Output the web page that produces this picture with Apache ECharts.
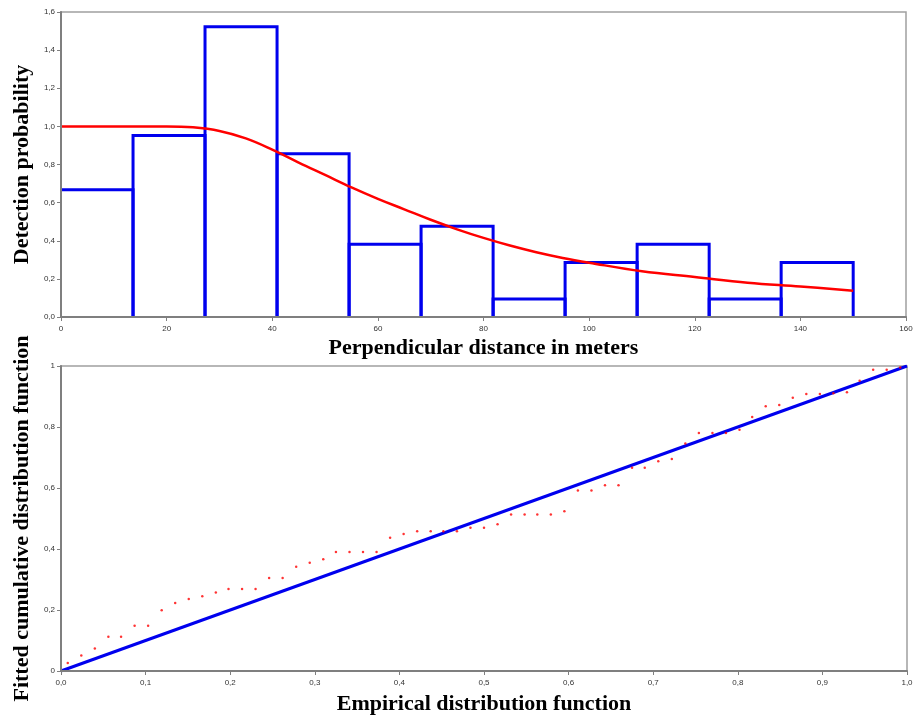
<!DOCTYPE html>
<html>
<head>
<meta charset="utf-8">
<script src="https://cdn.jsdelivr.net/npm/echarts@6/dist/echarts.min.js"></script>
<style>
html,body{margin:0;padding:0;background:#fff;}
#chart{width:915px;height:720px;}
</style>
</head>
<body>
<div id="chart"></div>
<script>
// ---- Top panel: histogram of perpendicular distances + fitted detection function ----
const binEdges = [0, 13.64, 27.27, 40.91, 54.55, 68.18, 81.82, 95.45, 109.09, 122.73, 136.36, 150];
const binHeights = [0.667, 0.952, 1.523, 0.857, 0.381, 0.476, 0.095, 0.286, 0.381, 0.095, 0.286];
const curveX = [0, 5, 10, 15, 20, 25, 30, 35, 40, 45, 50, 55, 60, 65, 70, 75, 80, 85, 90, 95, 100, 110, 120, 130, 140, 150];
const curveY = [1.0, 1.0, 1.0, 1.0, 1.0, 0.995, 0.976, 0.937, 0.878, 0.81, 0.745, 0.68, 0.62, 0.565, 0.51, 0.46, 0.415, 0.375, 0.34, 0.31, 0.285, 0.24, 0.21, 0.18, 0.16, 0.138];
const topXTicks = ['0', '20', '40', '60', '80', '100', '120', '140', '160'];
const topYTicks = ['0,0', '0,2', '0,4', '0,6', '0,8', '1,0', '1,2', '1,4', '1,6'];

// ---- Bottom panel: empirical vs fitted CDF ----
const empiricalCDF = [0.008, 0.024, 0.040, 0.056, 0.071, 0.087, 0.103, 0.119, 0.135, 0.151, 0.167, 0.183, 0.198, 0.214, 0.230, 0.246, 0.262, 0.278, 0.294, 0.310, 0.325, 0.341, 0.357, 0.373, 0.389, 0.405, 0.421, 0.437, 0.452, 0.468, 0.484, 0.500, 0.516, 0.532, 0.548, 0.563, 0.579, 0.595, 0.611, 0.627, 0.643, 0.659, 0.675, 0.690, 0.706, 0.722, 0.738, 0.754, 0.770, 0.786, 0.802, 0.817, 0.833, 0.849, 0.865, 0.881, 0.897, 0.913, 0.929, 0.944, 0.960, 0.976, 0.992];
const fittedCDF = [0.026, 0.051, 0.074, 0.112, 0.112, 0.148, 0.148, 0.199, 0.223, 0.236, 0.245, 0.257, 0.269, 0.269, 0.269, 0.305, 0.305, 0.342, 0.355, 0.366, 0.390, 0.390, 0.390, 0.390, 0.437, 0.449, 0.458, 0.458, 0.458, 0.458, 0.470, 0.470, 0.481, 0.513, 0.513, 0.513, 0.513, 0.524, 0.592, 0.592, 0.609, 0.609, 0.666, 0.666, 0.688, 0.695, 0.746, 0.780, 0.780, 0.780, 0.791, 0.833, 0.868, 0.872, 0.896, 0.908, 0.908, 0.911, 0.914, 0.952, 0.988, 0.988, 0.995];
const refLineX = [0, 1];
const refLineY = [0, 1];
const botXTicks = ['0,0', '0,1', '0,2', '0,3', '0,4', '0,5', '0,6', '0,7', '0,8', '0,9', '1,0'];
const botYTicks = ['0', '0,2', '0,4', '0,6', '0,8', '1'];

const BLUE = '#0000ee';
const RED = '#ff0000';
const AXIS = '#7f7f7f';
const titleFont = {fontFamily: '"Liberation Serif", "Times New Roman", serif', fontWeight: 'bold', fontSize: 22, color: '#000'};
const tickFont = {fontFamily: '"Liberation Sans", Arial, sans-serif', fontSize: 8, color: '#333'};

function axisCommon() {
  return {
    axisLine: {show: true, onZero: false, lineStyle: {color: AXIS, width: 2}},
    axisTick: {show: true, inside: false, length: 4, lineStyle: {color: AXIS, width: 1}},
    splitLine: {show: false},
    z: 5
  };
}

const chart = echarts.init(document.getElementById('chart'), null, {renderer: 'canvas'});

const option = {
  backgroundColor: '#fff',
  animation: false,
  grid: [
    {left: 61, top: 12, width: 845, height: 305, show: true, borderColor: '#a0a0a0', borderWidth: 1.5, containLabel: false, outerBoundsMode: 'none'},
    {left: 61, top: 366, width: 846, height: 305, show: true, borderColor: '#a0a0a0', borderWidth: 1.5, containLabel: false, outerBoundsMode: 'none'}
  ],
  xAxis: [
    Object.assign(axisCommon(), {
      gridIndex: 0, type: 'value', min: 0, max: 160, interval: 20,
      axisLabel: Object.assign({margin: 8, formatter: v => topXTicks[Math.round(v / 20)]}, tickFont),
      name: 'Perpendicular distance in meters', nameLocation: 'middle', nameGap: 20, nameTextStyle: titleFont
    }),
    Object.assign(axisCommon(), {
      gridIndex: 1, type: 'value', min: 0, max: 1, interval: 0.1,
      axisLabel: Object.assign({margin: 8, formatter: v => botXTicks[Math.round(v * 10)]}, tickFont),
      name: 'Empirical distribution function', nameLocation: 'middle', nameGap: 22, nameTextStyle: titleFont
    })
  ],
  yAxis: [
    Object.assign(axisCommon(), {
      gridIndex: 0, type: 'value', min: 0, max: 1.6, interval: 0.2,
      axisLabel: Object.assign({margin: 6, formatter: v => topYTicks[Math.round(v * 5)]}, tickFont),
      name: 'Detection probability', nameLocation: 'middle', nameGap: 26, nameTextStyle: titleFont
    }),
    Object.assign(axisCommon(), {
      gridIndex: 1, type: 'value', min: 0, max: 1, interval: 0.2,
      axisLabel: Object.assign({margin: 6, formatter: v => botYTicks[Math.round(v * 5)]}, tickFont),
      name: 'Fitted cumulative distribution function', nameLocation: 'middle', nameGap: 27, nameTextStyle: titleFont
    })
  ],
  series: [
    {
      type: 'custom',
      xAxisIndex: 0, yAxisIndex: 0,
      z: 2,
      data: binHeights.map((h, i) => [binEdges[i], binEdges[i + 1], h]),
      renderItem: function (params, api) {
        const x0 = api.value(0), x1 = api.value(1), h = api.value(2);
        const pts = [];
        // the left edge of a bin that starts on the y axis is hidden by the axis line
        if (x0 > 0) pts.push(api.coord([x0, 0]));
        pts.push(api.coord([x0, h]));
        pts.push(api.coord([x1, h]));
        pts.push(api.coord([x1, 0]));
        return {
          type: 'polyline',
          shape: {points: pts},
          style: {fill: 'none', stroke: BLUE, lineWidth: 3, lineJoin: 'miter'}
        };
      }
    },
    {
      type: 'line',
      xAxisIndex: 0, yAxisIndex: 0,
      smooth: 0.4,
      symbol: 'none',
      z: 3,
      lineStyle: {color: RED, width: 2.5},
      data: curveX.map((x, i) => [x, curveY[i]])
    },
    {
      type: 'line',
      xAxisIndex: 1, yAxisIndex: 1,
      symbol: 'none',
      z: 2,
      lineStyle: {color: BLUE, width: 3},
      data: refLineX.map((x, i) => [x, refLineY[i]])
    },
    {
      type: 'scatter',
      xAxisIndex: 1, yAxisIndex: 1,
      symbol: 'circle',
      symbolSize: 2.5,
      z: 3,
      itemStyle: {color: RED},
      data: empiricalCDF.map((x, i) => [x, fittedCDF[i]])
    }
  ]
};
chart.setOption(option);
</script>
</body>
</html>
